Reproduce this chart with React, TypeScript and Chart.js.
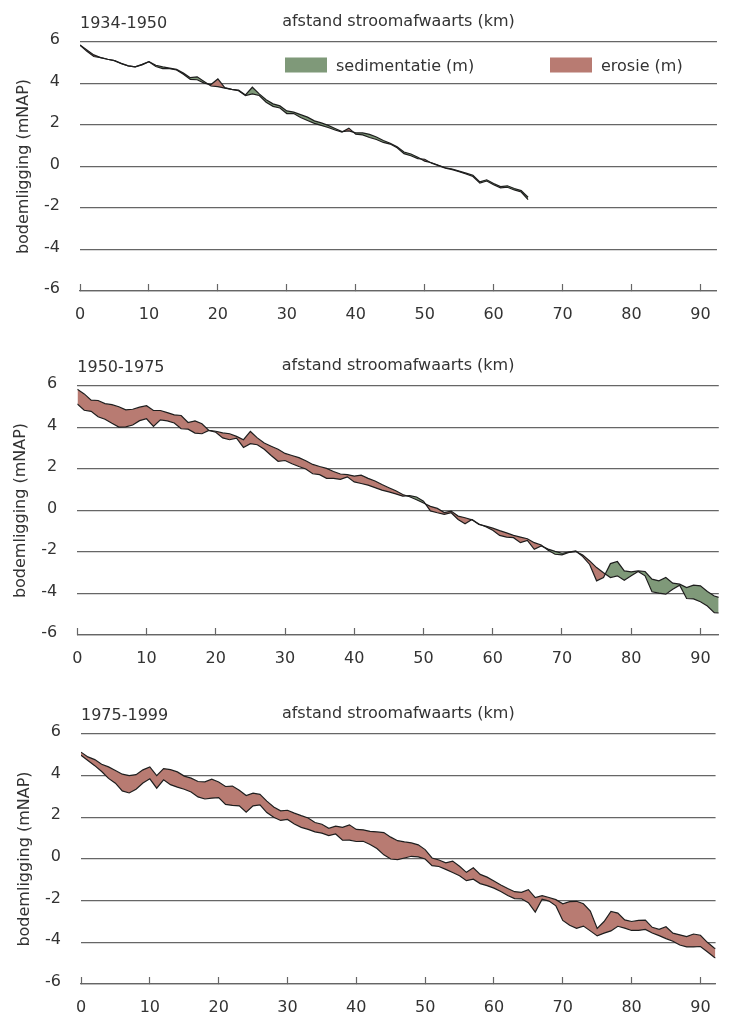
import React, { useEffect, useRef } from 'react';
import { Chart, registerables } from 'chart.js';

Chart.register(...registerables);

const FONT = "'DejaVu Sans', sans-serif";
const TEXT = '#333333';
const GRID = '#666666';
const SED = '#7f9979';
const ERO = '#b87b72';
const LINE = '#1e1e1e';

const X_TITLE = 'afstand stroomafwaarts (km)';
const Y_TITLE = 'bodemligging (mNAP)';
const LEGEND_SED = 'sedimentatie (m)';
const LEGEND_ERO = 'erosie (m)';

// ---------- panel 1: 1934-1950 ----------
const KM_1 = [0, 1, 2, 3, 4, 5, 6, 7, 8, 9, 10, 11, 12, 13, 14, 15, 16, 17, 18, 19, 20, 21, 22, 23, 24, 25, 26, 27, 28, 29, 30, 31, 32, 33, 34, 35, 36, 37, 38, 39, 40, 41, 42, 43, 44, 45, 46, 47, 48, 49, 50, 51, 52, 53, 54, 55, 56, 57, 58, 59, 60, 61, 62, 63, 64, 65];
const BED_1934 = [5.85, 5.62, 5.38, 5.25, 5.17, 5.1, 4.95, 4.85, 4.8, 4.9, 5.05, 4.82, 4.72, 4.72, 4.65, 4.45, 4.2, 4.18, 4.02, 3.95, 4.22, 3.8, 3.72, 3.65, 3.42, 3.5, 3.42, 3.1, 2.9, 2.82, 2.55, 2.55, 2.36, 2.22, 2.08, 1.98, 1.88, 1.76, 1.66, 1.85, 1.56, 1.52, 1.4, 1.3, 1.16, 1.08, 0.9, 0.62, 0.52, 0.38, 0.35, 0.16, 0.04, -0.08, -0.15, -0.25, -0.36, -0.48, -0.8, -0.7, -0.88, -1.03, -1.0, -1.13, -1.23, -1.6];
const BED_1950_P1 = [5.85, 5.55, 5.3, 5.25, 5.17, 5.1, 4.97, 4.85, 4.8, 4.92, 5.05, 4.88, 4.8, 4.74, 4.68, 4.5, 4.28, 4.32, 4.1, 3.88, 3.85, 3.78, 3.72, 3.68, 3.45, 3.82, 3.5, 3.22, 3.02, 2.92, 2.68, 2.62, 2.5, 2.38, 2.2, 2.1, 1.98, 1.83, 1.68, 1.72, 1.62, 1.62, 1.55, 1.42, 1.25, 1.12, 0.95, 0.7, 0.6, 0.45, 0.26, 0.18, 0.06, -0.06, -0.12, -0.22, -0.32, -0.42, -0.74, -0.64, -0.82, -0.97, -0.93, -1.06, -1.16, -1.48];

// ---------- panel 2: 1950-1975 ----------
const KM_2 = [0, 1, 2, 3, 4, 5, 6, 7, 8, 9, 10, 11, 12, 13, 14, 15, 16, 17, 18, 19, 20, 21, 22, 23, 24, 25, 26, 27, 28, 29, 30, 31, 32, 33, 34, 35, 36, 37, 38, 39, 40, 41, 42, 43, 44, 45, 46, 47, 48, 49, 50, 51, 52, 53, 54, 55, 56, 57, 58, 59, 60, 61, 62, 63, 64, 65, 66, 67, 68, 69, 70, 71, 72, 73, 74, 75, 76, 77, 78, 79, 80, 81, 82, 83, 84, 85, 86, 87, 88, 89, 90, 91, 92, 92.65];
const BED_1950_P2 = [5.84, 5.62, 5.32, 5.3, 5.15, 5.1, 5.0, 4.85, 4.88, 4.98, 5.05, 4.82, 4.82, 4.72, 4.61, 4.58, 4.24, 4.32, 4.18, 3.86, 3.82, 3.74, 3.7, 3.57, 3.41, 3.81, 3.5, 3.25, 3.1, 2.95, 2.75, 2.65, 2.55, 2.4, 2.22, 2.12, 2.03, 1.88, 1.76, 1.73, 1.66, 1.7, 1.55, 1.42, 1.25, 1.1, 0.95, 0.77, 0.66, 0.52, 0.36, 0.2, 0.1, -0.1, -0.03, -0.27, -0.35, -0.45, -0.67, -0.75, -0.85, -0.97, -1.08, -1.2, -1.28, -1.36, -1.55, -1.66, -1.92, -2.11, -2.14, -2.02, -1.98, -2.15, -2.43, -2.75, -3.0, -3.23, -3.15, -3.36, -3.15, -2.94, -3.15, -3.92, -3.98, -4.03, -3.8, -3.6, -4.24, -4.26, -4.4, -4.6, -4.92, -4.94];
const BED_1975_P2 = [5.14, 4.83, 4.78, 4.52, 4.4, 4.2, 4.02, 4.03, 4.12, 4.33, 4.42, 4.05, 4.37, 4.32, 4.22, 3.94, 3.92, 3.73, 3.7, 3.86, 3.77, 3.5, 3.41, 3.49, 3.04, 3.22, 3.17, 2.95, 2.65, 2.37, 2.41, 2.25, 2.12, 2.0, 1.77, 1.73, 1.55, 1.55, 1.5, 1.62, 1.38, 1.3, 1.22, 1.1, 0.98, 0.9, 0.8, 0.69, 0.72, 0.65, 0.45, -0.02, -0.11, -0.19, -0.11, -0.43, -0.64, -0.43, -0.65, -0.78, -0.95, -1.2, -1.28, -1.31, -1.55, -1.44, -1.87, -1.71, -1.86, -1.97, -2.06, -2.0, -1.95, -2.22, -2.6, -3.39, -3.23, -2.56, -2.46, -2.91, -2.96, -2.91, -2.94, -3.31, -3.39, -3.23, -3.5, -3.55, -3.71, -3.6, -3.63, -3.9, -4.12, -4.19];

// ---------- panel 3: 1975-1999 ----------
const KM_3 = [0, 1, 2, 3, 4, 5, 6, 7, 8, 9, 10, 11, 12, 13, 14, 15, 16, 17, 18, 19, 20, 21, 22, 23, 24, 25, 26, 27, 28, 29, 30, 31, 32, 33, 34, 35, 36, 37, 38, 39, 40, 41, 42, 43, 44, 45, 46, 47, 48, 49, 50, 51, 52, 53, 54, 55, 56, 57, 58, 59, 60, 61, 62, 63, 64, 65, 66, 67, 68, 69, 70, 71, 72, 73, 74, 75, 76, 77, 78, 79, 80, 81, 82, 83, 84, 85, 86, 87, 88, 89, 90, 91, 92, 92.2];
const BED_1975_P3 = [5.13, 4.9, 4.77, 4.55, 4.42, 4.25, 4.07, 4.0, 4.05, 4.28, 4.42, 4.0, 4.34, 4.29, 4.18, 3.98, 3.88, 3.72, 3.7, 3.83, 3.7, 3.48, 3.5, 3.3, 3.05, 3.16, 3.1, 2.78, 2.5, 2.31, 2.34, 2.2, 2.08, 1.97, 1.75, 1.67, 1.47, 1.58, 1.52, 1.64, 1.42, 1.4, 1.33, 1.3, 1.27, 1.05, 0.88, 0.82, 0.77, 0.68, 0.45, 0.05, -0.05, -0.18, -0.1, -0.35, -0.64, -0.42, -0.74, -0.87, -1.06, -1.25, -1.42, -1.57, -1.6, -1.47, -1.85, -1.76, -1.85, -1.95, -2.15, -2.05, -2.03, -2.15, -2.5, -3.33, -3.0, -2.52, -2.6, -2.92, -3.0, -2.95, -2.93, -3.28, -3.38, -3.25, -3.56, -3.64, -3.72, -3.6, -3.66, -4.0, -4.27, -4.3];
const BED_1999 = [4.98, 4.73, 4.48, 4.2, 3.87, 3.64, 3.27, 3.17, 3.35, 3.65, 3.85, 3.4, 3.8, 3.57, 3.45, 3.35, 3.22, 2.98, 2.88, 2.92, 2.95, 2.62, 2.57, 2.55, 2.25, 2.55, 2.6, 2.23, 2.0, 1.85, 1.9, 1.68, 1.52, 1.42, 1.3, 1.24, 1.12, 1.2, 0.9, 0.91, 0.84, 0.85, 0.7, 0.5, 0.2, 0.0, -0.03, 0.05, 0.13, 0.1, 0.0, -0.32, -0.36, -0.5, -0.65, -0.8, -1.04, -0.97, -1.18, -1.28, -1.4, -1.56, -1.75, -1.9, -1.91, -2.1, -2.55, -1.93, -2.02, -2.25, -2.95, -3.18, -3.33, -3.22, -3.45, -3.69, -3.56, -3.45, -3.23, -3.32, -3.43, -3.43, -3.38, -3.55, -3.68, -3.82, -3.95, -4.13, -4.22, -4.22, -4.2, -4.45, -4.72, -4.75];

type PanelProps = {
  top: number;
  height: number;
  plotLeft: number;
  xMax: number;
  period: string;
  oldLabel: string;
  newLabel: string;
  km: number[];
  older: number[];
  newer: number[];
  legend: boolean;
};

function Panel(p: PanelProps) {
  const ref = useRef<HTMLCanvasElement>(null);
  useEffect(() => {
    const canvas = ref.current;
    if (!canvas) return;
    const toXY = (ys: number[]) => ys.map((y, i) => ({ x: p.km[i], y }));
    const font = { family: FONT, size: 16, lineHeight: 1.2 };
    const textPlugin = {
      id: 'panelText',
      afterDraw(chart: any) {
        const { ctx, chartArea } = chart;
        ctx.save();
        ctx.font = `16px ${FONT}`;
        ctx.fillStyle = TEXT;
        ctx.textAlign = 'left';
        ctx.textBaseline = 'alphabetic';
        ctx.fillText(p.period, chartArea.left, chartArea.top - 14.5);
        if (p.legend) {
          const items = [
            { label: LEGEND_SED, color: SED, dx: 205 },
            { label: LEGEND_ERO, color: ERO, dx: 470 },
          ];
          for (const it of items) {
            ctx.fillStyle = it.color;
            ctx.fillRect(chartArea.left + it.dx, chartArea.top + 15.5, 42, 15);
            ctx.fillStyle = TEXT;
            ctx.fillText(it.label, chartArea.left + it.dx + 51, chartArea.top + 29);
          }
        }
        ctx.restore();
      },
    };
    const chart = new Chart(canvas, {
      type: 'line',
      data: {
        datasets: [
          {
            label: p.oldLabel,
            data: toXY(p.older),
            borderColor: LINE,
            borderWidth: 1.2,
            pointRadius: 0,
            tension: 0,
            fill: false,
          },
          {
            label: p.newLabel,
            data: toXY(p.newer),
            borderColor: LINE,
            borderWidth: 1.2,
            pointRadius: 0,
            tension: 0,
            fill: { target: 0, above: SED, below: ERO },
          },
        ],
      },
      options: {
        animation: false,
        responsive: false,
        maintainAspectRatio: false,
        events: [],
        layout: { padding: 0 },
        plugins: {
          legend: { display: false },
          tooltip: { enabled: false },
          title: { display: false },
        },
        scales: {
          x: {
            type: 'linear',
            position: 'bottom',
            min: 0,
            max: p.xMax,
            afterFit: (s: any) => { s.height = 30; },
            grid: { drawOnChartArea: false, drawTicks: true, tickLength: -7, color: GRID, tickColor: GRID, tickWidth: 1.2 },
            border: { display: true, color: GRID, width: 1.2 },
            ticks: { stepSize: 10, includeBounds: false, padding: 21, color: TEXT, font, maxRotation: 0, autoSkip: false },
          },
          xTop: {
            type: 'linear',
            position: 'top',
            min: 0,
            max: p.xMax,
            afterFit: (s: any) => { s.height = 42; },
            grid: { display: false },
            border: { display: false },
            ticks: { display: false },
            title: { display: true, text: X_TITLE, color: TEXT, font, padding: { top: 12.4, bottom: 0 } },
          },
          y: {
            type: 'linear',
            min: -6,
            max: 6,
            afterFit: (s: any) => { s.width = p.plotLeft; },
            grid: { color: GRID, lineWidth: 1.2, drawTicks: false },
            border: { display: false },
            ticks: { stepSize: 2, padding: 20, labelOffset: -2, color: TEXT, font },
            title: { display: true, text: Y_TITLE, color: TEXT, font, padding: { top: p.plotLeft - 56 - 9.6, bottom: 0 } },
          },
        },
      } as any,
      plugins: [textPlugin],
    });
    return () => chart.destroy();
  }, []);
  return (
    <canvas
      ref={ref}
      width={732}
      height={p.height}
      style={{ position: 'absolute', left: 0, top: p.top, display: 'block' }}
    />
  );
}

export default function App() {
  return (
    <div style={{ position: 'fixed', left: 0, top: 0, width: 732, height: 1015, overflow: 'hidden', background: '#ffffff' }}>
      <Panel top={0} height={321} plotLeft={80} xMax={92.4} period="1934-1950" oldLabel="1934" newLabel="1950"
        km={KM_1} older={BED_1934} newer={BED_1950_P1} legend={true} />
      <Panel top={344} height={321} plotLeft={77.3} xMax={92.65} period="1950-1975" oldLabel="1950" newLabel="1975"
        km={KM_2} older={BED_1950_P2} newer={BED_1975_P2} legend={false} />
      <Panel top={692} height={322} plotLeft={81} xMax={92.2} period="1975-1999" oldLabel="1975" newLabel="1999"
        km={KM_3} older={BED_1975_P3} newer={BED_1999} legend={false} />
    </div>
  );
}
